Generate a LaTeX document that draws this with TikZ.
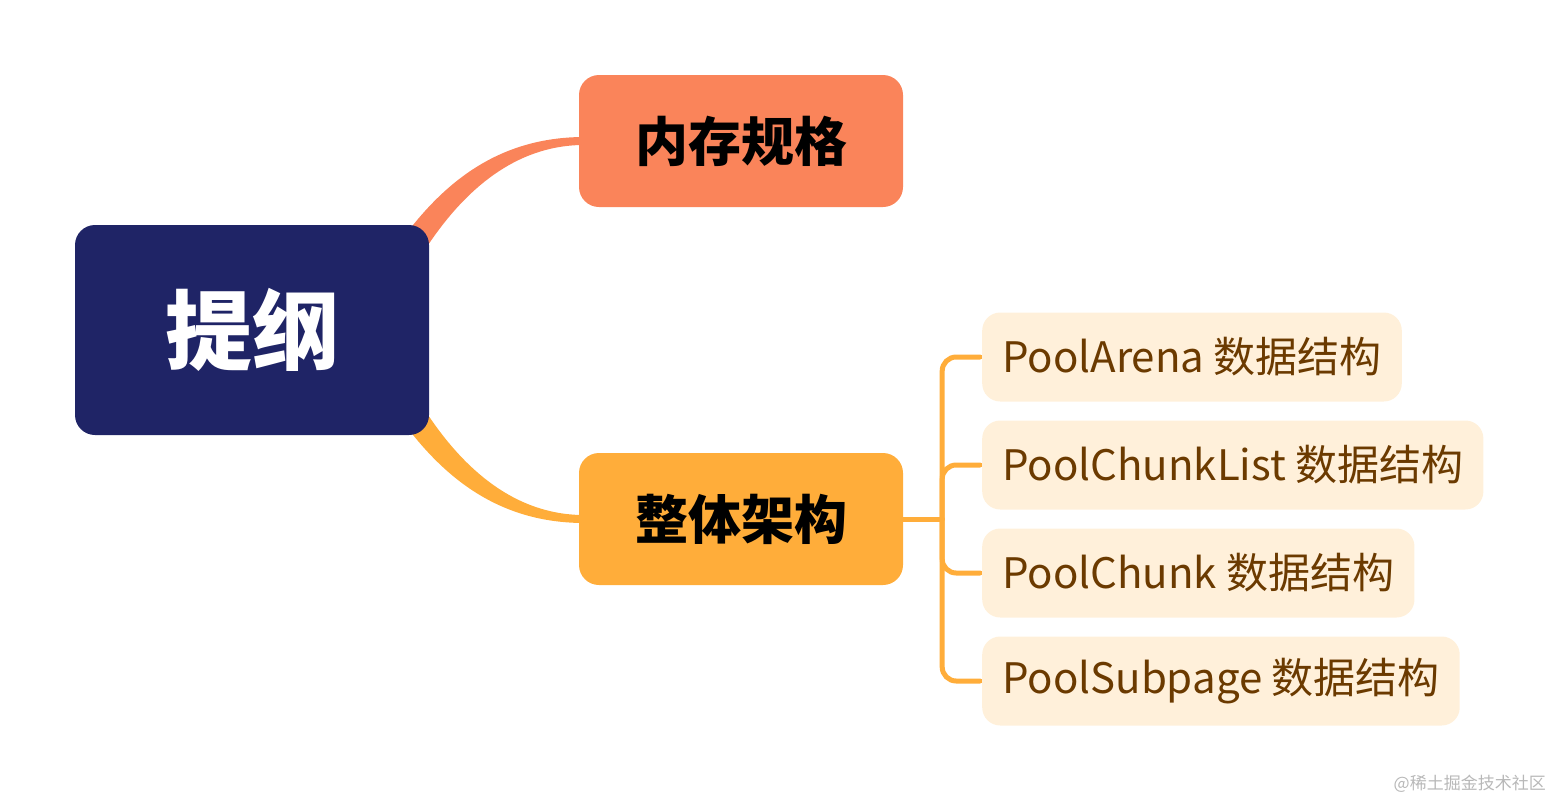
\documentclass[tikz,border=0pt]{standalone}
\usepackage{fontspec}
\setmainfont{Noto Sans CJK SC}
\usetikzlibrary{calc}
\pgfdeclarelayer{background}
\pgfsetlayers{background,main}
\definecolor{navy}{HTML}{1F2466}
\definecolor{coral}{HTML}{FA845A}
\definecolor{amber}{HTML}{FFAD3A}
\definecolor{cream}{HTML}{FFF0DA}
\definecolor{brownt}{HTML}{6B3A00}
\definecolor{wmark}{HTML}{B8B8B8}
\begin{document}
\begin{tikzpicture}[x=1pt,y=-1pt,
  rootbox/.style={fill=navy,rounded corners=20pt,minimum width=354pt,minimum height=210pt,
    text=white,font=\fontsize{87}{87}\selectfont\bfseries,inner sep=0pt},
  mainbox/.style={rounded corners=20pt,minimum width=324pt,minimum height=132pt,
    text=black,font=\fontsize{53}{53}\selectfont\bfseries,inner sep=0pt},
  leafbox/.style={fill=cream,rounded corners=18pt,minimum height=89pt,inner xsep=20pt,
    anchor=west,text=brownt,font=\fontsize{42}{42}\selectfont},
  branch/.style={draw=amber,line width=5pt,line cap=round}]
\useasboundingbox (0,0) rectangle (1551,801);
% nodes
\node[rootbox] (root) at (252,330) {提纲};
\node[mainbox,fill=coral] (m1) at (741,141) {内存规格};
\node[mainbox,fill=amber] (m2) at (741,519) {整体架构};
\node[leafbox] (c1) at (982,357) {PoolArena 数据结构};
\node[leafbox] (c2) at (982,465) {PoolChunkList 数据结构};
\node[leafbox] (c3) at (982,573) {PoolChunk 数据结构};
\node[leafbox] (c4) at (982,681) {PoolSubpage 数据结构};
% tapered curves behind the boxes
\begin{pgfonlayer}{background}
\fill[coral] ($(root.north east)+(-29,17)$) .. controls (445,180) and (500,138) .. ($(m1.west)+(3,-4)$)
  -- ($(m1.west)+(3,4)$) .. controls (515,146) and (465,190) .. ($(root.north east)+(-1,20)$) -- cycle;
\fill[amber] ($(root.south east)+(-29,-17)$) .. controls (445,480) and (500,522) .. ($(m2.west)+(3,4)$)
  -- ($(m2.west)+(3,-4)$) .. controls (515,514) and (465,470) .. ($(root.south east)+(-1,-20)$) -- cycle;
% right branches
\coordinate (j) at ($(m2.east)+(39,0)$);
\draw[branch] (m2.east) -- (j);
\foreach \c in {c1,c2,c3,c4}{
  \draw[branch,rounded corners=14pt] (j) |- ($(\c.west)+(-2,0)$);
}
\end{pgfonlayer}
% watermark
\node[anchor=east,text=wmark,font=\fontsize{17}{17}\selectfont,inner sep=0pt] (wm) at (1546,784) {@稀土掘金技术社区};
\end{tikzpicture}
\end{document}
